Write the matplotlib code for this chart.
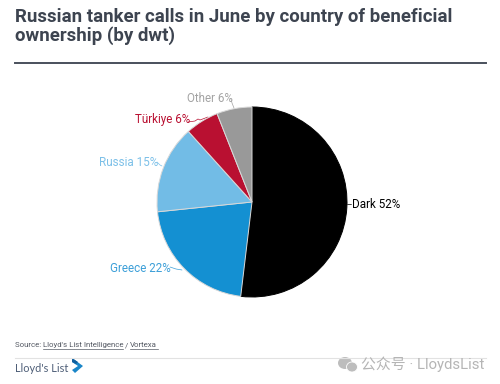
import matplotlib
matplotlib.use("Agg")
import matplotlib.pyplot as plt
from matplotlib.patches import Polygon, Ellipse

plt.rcParams['font.family'] = ['Roboto', 'Noto Sans CJK SC', 'DejaVu Sans']

categories = ["Dark", "Greece", "Russia", "Türkiye", "Other"]
values = [52, 21.5, 15, 5.7, 6]
labels = ["Dark 52%", "Greece 22%", "Russia 15%", "Türkiye 6%", "Other 6%"]
colors = ["#000000", "#1490d2", "#72bce6", "#b91031", "#999999"]
label_colors = ["#000000", "#3c9fd8", "#7cc0e8", "#b91031", "#a3a3a3"]
label_pos = [(352, 204), (110, 269), (99, 162), (135, 119), (187, 99)]
leaders = [
    [(347, 204), (351, 204)],
    [(170, 267), (176, 269), (182, 270)],
    [(157, 162), (160, 165), (162, 166)],
    [(188, 122), (195, 121), (198, 119), (200, 120), (208, 117)],
    [(231, 99), (232, 103), (234, 108)],
]

W, H = 500, 384
fig = plt.figure(figsize=(W / 100, H / 100), dpi=100, facecolor="white")
ax = fig.add_axes([0, 0, 1, 1])
ax.set_xlim(0, W)
ax.set_ylim(H, 0)
ax.axis("off")

cx, cy, r = 252, 202, 95
pax = fig.add_axes([(cx - r) / W, 1 - (cy + r) / H, 2 * r / W, 2 * r / H])
pax.pie(values, colors=colors, startangle=90, counterclock=False, radius=1,
        wedgeprops=dict(linewidth=0.7, edgecolor="#d8d8d8"))
pax.set_xlim(-1, 1)
pax.set_ylim(-1, 1)
pax.patches[0].set_edgecolor("#000000")

for lab, col, (x, y), pts in zip(labels, label_colors, label_pos, leaders):
    ax.text(x, y, lab, color=col, fontsize=8.4, ha="left", va="center")
    ax.plot(*zip(*pts), color=col, lw=0.5, solid_capstyle="round")

ax.text(15, 16.5, "Russian tanker calls in June by country of beneficial",
        fontsize=13.4, fontweight="bold", color="#3d4450", va="center")
ax.text(15, 36, "ownership (by dwt)",
        fontsize=13.4, fontweight="bold", color="#3d4450", va="center")
ax.plot([15, 486], [63, 63], color="#4a505c", lw=1.4)

ax.text(15, 345, "Source: ", fontsize=5.7, color="#555a64", va="center")
ax.text(43, 345, "Lloyd's List Intelligence", fontsize=5.7, color="#555a64", va="center")
ax.plot([43, 123], [349, 349], color="#555a64", lw=0.5)
ax.text(125, 345, "/", fontsize=5.7, color="#555a64", va="center")
ax.text(130, 345, "Vortexa", fontsize=5.7, color="#555a64", va="center")
ax.plot([130, 158], [349, 349], color="#555a64", lw=0.5)
ax.plot([15, 486], [357.5, 357.5], color="#e2e2e2", lw=0.8)

ax.text(15, 369, "Lloyd's List", fontsize=7.9, color="#4f5f78", va="center", family="Lato")
ax.add_patch(Polygon([(72, 358), (83, 366), (75, 373), (72, 370), (78, 366), (72, 362)],
                     closed=True, facecolor="#1a86c8", edgecolor="none"))
ax.add_patch(Polygon([(72, 358), (78, 362), (76, 364), (72, 362)],
                     closed=True, facecolor="#0f5f9e", edgecolor="none"))

ax.add_patch(Ellipse((345, 363), 14, 12, facecolor="#bdbdbd", edgecolor="none"))
ax.add_patch(Ellipse((352, 367), 11, 10, facecolor="#bdbdbd", edgecolor="white", lw=0.6))
ax.text(361, 364, "公众号 · LloydsList", fontsize=10.7, color="#b5b5b5", va="center")

fig.savefig("out.png", dpi=100, facecolor="white")
